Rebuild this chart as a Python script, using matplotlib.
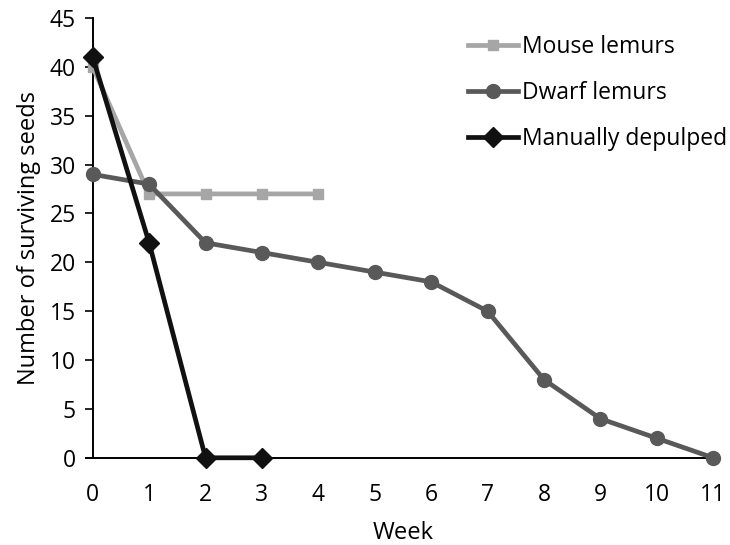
import matplotlib.pyplot as plt

# datos
semanas_mouse = [0, 1, 2, 3, 4]
mouse_lemurs = [40, 27, 27, 27, 27]

semanas_dwarf = [0, 1, 2, 3, 4, 5, 6, 7, 8, 9, 10, 11]
dwarf_lemurs = [29, 28, 22, 21, 20, 19, 18, 15, 8, 4, 2, 0]

semanas_manual = [0, 1, 2, 3]
manual = [41, 22, 0, 0]

plt.rcParams['font.family'] = ['Open Sans', 'DejaVu Sans']

fig = plt.figure(figsize=(7.3, 5.45), dpi=100)
ax = fig.add_axes([0.127, 0.160, 0.850, 0.807])

ax.plot(semanas_mouse, mouse_lemurs, color='#a6a6a6', lw=3.4, marker='s', ms=7.5,
        label='Mouse lemurs', clip_on=False, zorder=3)
ax.plot(semanas_dwarf, dwarf_lemurs, color='#595959', lw=3.4, marker='o', ms=10,
        label='Dwarf lemurs', clip_on=False, zorder=4)
ax.plot(semanas_manual, manual, color='#111111', lw=3.4, marker='D', ms=10.5,
        label='Manually depulped', clip_on=False, zorder=5)

ax.set_xlim(0, 11)
ax.set_ylim(0, 45)
ax.set_xticks(range(0, 12))
ax.set_yticks(range(0, 46, 5))
ax.tick_params(axis='x', length=0, pad=18, labelsize=16.5)
ax.tick_params(axis='y', direction='out', length=6, width=1.2, pad=6, labelsize=16.5)
ax.spines['top'].set_visible(False)
ax.spines['right'].set_visible(False)
ax.spines['left'].set_linewidth(1.4)
ax.spines['bottom'].set_linewidth(1.4)
ax.spines['bottom'].set_bounds(-0.12, 11)

ax.set_xlabel('Week', fontsize=17, labelpad=10)
ax.set_ylabel('Number of surviving seeds', fontsize=17, labelpad=6)

ax.legend(loc='upper right', bbox_to_anchor=(1.056, 1.008), frameon=False, fontsize=16.5,
          handlelength=2.15, handletextpad=0.2, labelspacing=0.95)

fig.savefig('out.png', dpi=100)
